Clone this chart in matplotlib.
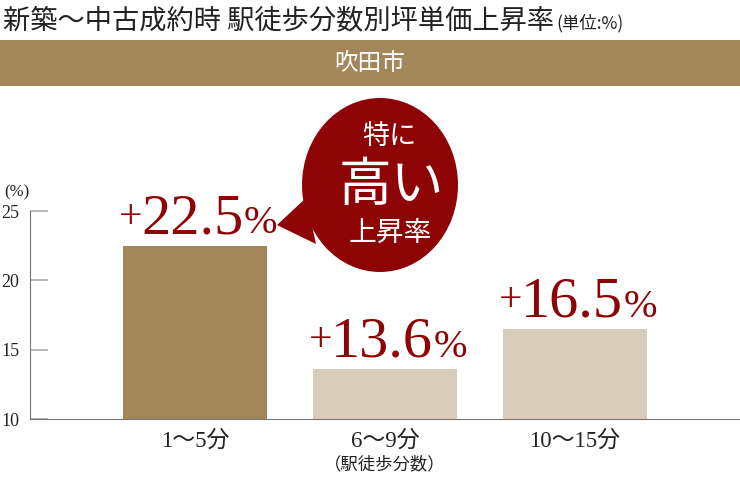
import matplotlib
matplotlib.use("Agg")
import matplotlib.pyplot as plt
from matplotlib.patches import Ellipse, Polygon, Rectangle

# データ
categories = ["1〜5分", "6〜9分", "10〜15分"]
values = [22.5, 13.6, 16.5]
value_labels = ["22.5", "13.6", "16.5"]
y_ticks = [10, 15, 20, 25]

title = "新築〜中古成約時 駅徒歩分数別坪単価上昇率"
unit = "(単位:%)"
city = "吹田市"

GOLD = "#A3875A"
BEIGE = "#D9CDB9"
RED = "#8E0404"
JP = ["Noto Sans CJK JP", "DejaVu Sans"]
SERIF = ["Liberation Serif", "Noto Sans CJK JP"]

W, H = 740, 480
fig = plt.figure(figsize=(W / 100, H / 100), dpi=100)


def px(x, y):
    # ピクセル座標 -> figure座標
    return x / W, 1 - y / H


# タイトル
fig.text(*px(3, 21), title, family=JP, fontsize=19.6, color="#222222",
         ha="left", va="center")
fig.text(*px(556, 23), unit, family=JP, fontsize=12.5, color="#222222",
         ha="left", va="center")

# 帯
fig.add_artist(Rectangle(px(0, 86), 1, 46 / H, transform=fig.transFigure,
                         color=GOLD, lw=0))
fig.text(*px(370, 63), city, family=JP, fontsize=17, color="white",
         ha="center", va="center")

# グラフ本体
ax = fig.add_axes([30 / W, 61 / H, 710 / W, 208 / H])
x = range(len(categories))
colors = [GOLD, BEIGE, BEIGE]
ax.bar(x, values, width=0.758, color=colors, bottom=0, zorder=2)
ax.set_xlim(-0.868, 2.868)
ax.set_ylim(10, 25)

for s in ["top", "right"]:
    ax.spines[s].set_visible(False)
ax.spines["left"].set_color("#777777")
ax.spines["bottom"].set_color("#777777")

ax.set_yticks(y_ticks)
ax.set_yticklabels([str(t) for t in y_ticks], family=SERIF, fontsize=13,
                   color="#222222")
ax.tick_params(axis="y", direction="in", length=13, width=1.2,
               color="#aaaaaa", pad=-3)
for lbl in ax.get_yticklabels():
    lbl.set_horizontalalignment("left")
    lbl.set_x(-33 / 710)

ax.set_xticks(list(x))
ax.set_xticklabels(categories, family=SERIF, fontsize=16.5, color="#222222")
ax.tick_params(axis="x", length=0, pad=8)

ax.text(1, -0.22, "（駅徒歩分数）", transform=ax.get_xaxis_transform(),
        family=JP, fontsize=12.5, color="#222222", ha="center", va="center")
fig.text(*px(4, 192), "(%)", family=SERIF, fontsize=12, color="#222222",
         ha="left", va="center")

# 数値ラベル
for i, (v, lab) in enumerate(zip(values, value_labels)):
    num = ax.annotate(lab, xy=(i, v), xytext=(-2, 9), textcoords="offset points",
                      family=SERIF, fontsize=42, color=RED,
                      ha="center", va="baseline")
    ax.annotate("+", xy=(0, 0), xycoords=num, xytext=(1, 6),
                textcoords="offset points", family=SERIF, fontsize=30,
                color=RED, ha="right", va="bottom")
    ax.annotate("%", xy=(1, 0), xycoords=num, xytext=(0, 2),
                textcoords="offset points", family=SERIF, fontsize=29,
                color=RED, ha="left", va="bottom")

# 吹き出し
fig.add_artist(Polygon([px(277, 225), px(306, 198), px(316, 244)],
                       closed=True, transform=fig.transFigure, color=RED, lw=0))
fig.add_artist(Ellipse(px(380, 185), 156 / W, 174 / H,
                       transform=fig.transFigure, color=RED, lw=0))
fig.text(*px(389, 136), "特に", family=JP, fontsize=19.5, color="white",
         ha="center", va="center")
fig.text(*px(391, 185), "高い", family=JP, fontsize=38, color="white",
         ha="center", va="center")
fig.text(*px(390, 233), "上昇率", family=JP, fontsize=20, color="white",
         ha="center", va="center")

fig.savefig("out.png", dpi=100)
